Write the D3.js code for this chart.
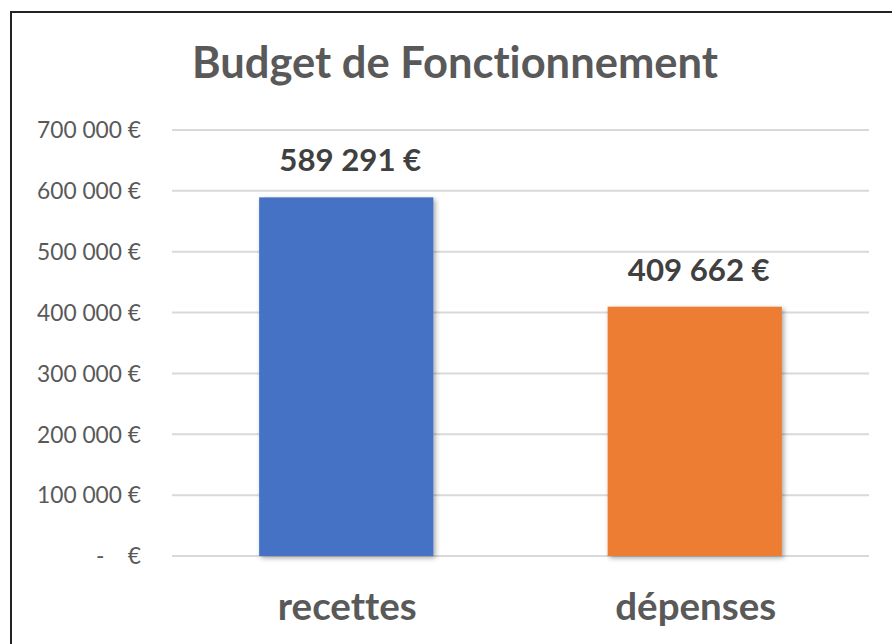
<!DOCTYPE html>
<html><head><meta charset="utf-8">
<script src="https://cdn.jsdelivr.net/npm/d3@7"></script>
<style>
html,body{margin:0;padding:0;background:#fff;}
svg{display:block;}
text{font-variant-ligatures:none;font-feature-settings:"liga" 0;}
</style></head>
<body>
<svg id="chart" width="892" height="644"></svg>
<script>
const categories = ["recettes", "dépenses"];
const values = [589291, 409662];
const colors = ["#4472C4", "#ED7D31"];
const yTicks = [0, 100000, 200000, 300000, 400000, 500000, 600000, 700000];
const title = "Budget de Fonctionnement";

const W = 892, H = 644;
const svg = d3.select("#chart");
const FONT = "Lato, 'Open Sans', sans-serif";
const TXT = "#595959";

const locale = d3.formatLocale({decimal: ",", thousands: "\u00a0", grouping: [3], currency: ["", "\u00a0€"]});
const fmt = locale.format("$,.0f");
const tickFmt = v => v === 0 ? "-\u00a0\u00a0\u00a0\u00a0€" : fmt(v);

function fit(sel, target) {
  sel.each(function() {
    const fs = parseFloat(this.getAttribute("font-size"));
    const w = this.getComputedTextLength();
    if (w > 0) this.setAttribute("font-size", (fs * target / w).toFixed(2));
  });
}

const defs = svg.append("defs");
const f = defs.append("filter").attr("id", "sh").attr("x", "-20%").attr("y", "-20%").attr("width", "140%").attr("height", "140%");
f.append("feDropShadow").attr("dx", 2).attr("dy", 2).attr("stdDeviation", 2.5)
  .attr("flood-color", "#000").attr("flood-opacity", 0.35);

svg.append("rect").attr("x", 11).attr("y", 12).attr("width", W).attr("height", H)
  .attr("fill", "#fff").attr("stroke", "#222").attr("stroke-width", 2);

const plot = {left: 172, right: 869, top: 130, bottom: 556};

const x = d3.scaleBand().domain(categories).range([plot.left, plot.right])
  .paddingInner(0.5).paddingOuter(0.25);
const y = d3.scaleLinear().domain([0, 700000]).range([plot.bottom, plot.top]);

svg.append("g").selectAll("line").data(yTicks).join("line")
  .attr("x1", plot.left).attr("x2", plot.right)
  .attr("y1", d => y(d)).attr("y2", d => y(d))
  .attr("stroke", "#D9D9D9").attr("stroke-width", 2);

const yAxis = svg.append("g").attr("transform", `translate(${plot.left},0)`)
  .call(d3.axisLeft(y).tickValues(yTicks).tickFormat(tickFmt).tickSize(0).tickPadding(31));
yAxis.select(".domain").remove();
yAxis.selectAll("text").attr("font-family", FONT).attr("font-size", 22)
  .attr("fill", TXT).attr("dy", "0.34em");
const refW = yAxis.selectAll("text").filter(d => d === 700000).node().getComputedTextLength();
const yfs = 22 * 104 / refW;
yAxis.selectAll("text").attr("font-size", yfs.toFixed(2));

svg.append("g").selectAll("rect").data(categories).join("rect")
  .attr("x", d => x(d)).attr("width", x.bandwidth())
  .attr("y", (d, i) => y(values[i])).attr("height", (d, i) => y(0) - y(values[i]))
  .attr("fill", (d, i) => colors[i]).attr("filter", "url(#sh)");

const dl = svg.append("g").selectAll("text").data(categories).join("text")
  .attr("x", d => x(d) + x.bandwidth() / 2 + 4)
  .attr("y", (d, i) => y(values[i]) - 26)
  .attr("text-anchor", "middle").attr("font-family", FONT).attr("font-weight", 700)
  .attr("font-size", 30).attr("fill", "#404040")
  .text((d, i) => fmt(values[i]));
{
  const n = dl.nodes()[0];
  const s = 30 * 142 / n.getComputedTextLength();
  dl.attr("font-size", s.toFixed(2));
}

const cl = svg.append("g").selectAll("text").data(categories).join("text")
  .attr("x", d => x(d) + x.bandwidth() / 2 + 1)
  .attr("y", 620)
  .attr("text-anchor", "middle").attr("font-family", FONT).attr("font-weight", 700)
  .attr("font-size", 40).attr("fill", TXT)
  .text(d => d);
{
  const n = cl.nodes()[0];
  const s = 40 * 139 / n.getComputedTextLength();
  cl.attr("font-size", s.toFixed(2));
}

const t = svg.append("text").attr("x", 455).attr("y", 78).attr("text-anchor", "middle")
  .attr("font-family", FONT).attr("font-weight", 700).attr("font-size", 44)
  .attr("fill", TXT).text(title);
fit(t, 526);
</script>
</body></html>
